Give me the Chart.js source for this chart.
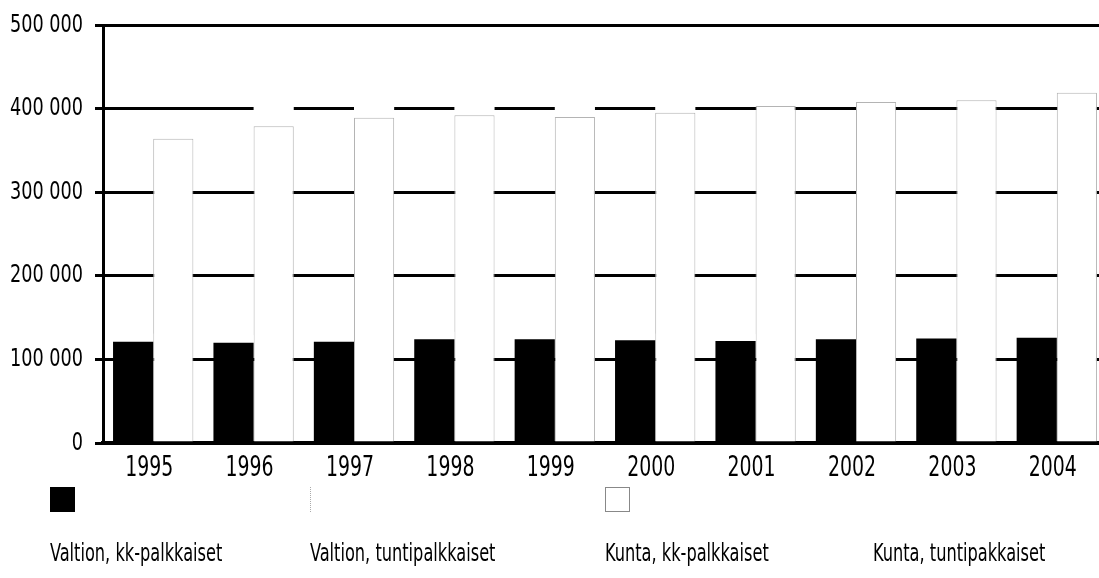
<!DOCTYPE html>
<html>
<head>
<meta charset="utf-8">
<script src="https://cdn.jsdelivr.net/npm/chart.js@4/dist/chart.umd.min.js"></script>
<style>
  html, body { margin: 0; padding: 0; background: #fff; overflow: hidden; }
  body { width: 1099px; height: 578px; position: relative; font-family: 'DejaVu Sans Condensed', 'DejaVu Sans', sans-serif; }
  #wrap { position: absolute; left: 0; top: 0; width: 1110px; height: 488px; }
  #legend { position: absolute; left: 0; top: 487px; width: 1099px; height: 91px; }
  .item { position: absolute; top: 0; }
  .sw { width: 25px; height: 25px; box-sizing: border-box; }
  .txt { position: absolute; left: 0; top: 53px; white-space: nowrap; font-size: 24px; line-height: 26px; color: #000;
         transform: scaleX(0.75); transform-origin: 0 50%; }
</style>
</head>
<body>
<div id="wrap"><canvas id="chart" width="1110" height="488"></canvas></div>
<div id="legend"></div>
<script>
// years and series (persons)
const years = ["1995", "1996", "1997", "1998", "1999", "2000", "2001", "2002", "2003", "2004"]
const valtionKk = [121000, 120000, 121000, 124000, 124000, 123000, 122000, 124000, 125000, 126000]
const valtionTunti = [10000, 9000, 9000, 9000, 8000, 8000, 8000, 8000, 8000, 8000]
const kuntaKk = [364000, 379000, 389000, 392000, 390000, 395000, 403000, 408000, 410000, 419000]
const kuntaTunti = [30000, 31000, 32000, 33000, 32000, 33000, 34000, 35000, 35000, 36000]
const yTickLabels = ["0", "100 000", "200 000", "300 000", "400 000", "500 000"]

const FONT = "'DejaVu Sans Condensed', 'DejaVu Sans', sans-serif"

// legend positions / swatch borders (style only)
const legendX = [50, 310, 605, 873]
const legendBorder = [
  { border: "none" },
  { border: "none", borderLeft: "1px dotted #aaa" },
  { border: "1px solid #888" },
  { border: "none" },
]

// tick labels drawn narrow (the original uses a condensed face)
const narrowTicks = {
  id: "narrowTicks",
  afterDraw(chart) {
    const c = chart.ctx
    const xs = chart.scales.x
    const ys = chart.scales.y
    c.save()
    c.fillStyle = "#000"
    c.textBaseline = "middle"

    c.font = "25px " + FONT
    c.textAlign = "right"
    ys.ticks.forEach((t, i) => {
      const py = ys.getPixelForValue(t.value)
      c.save()
      c.translate(chart.chartArea.left - 20, py)
      c.scale(0.785, 1)
      c.fillText(yTickLabels[i], 0, 0)
      c.restore()
    })

    c.font = "28px " + FONT
    c.textAlign = "center"
    xs.ticks.forEach((t, i) => {
      const px = xs.getPixelForTick(i) - 4
      c.save()
      c.translate(px, chart.chartArea.bottom + 26)
      c.scale(0.75, 1)
      c.fillText(years[i], 0, 0)
      c.restore()
    })
    c.restore()
  },
}

const ctx = document.getElementById("chart")

const chart = new Chart(ctx, {
  type: "bar",
  data: {
    labels: years,
    datasets: [
      { label: "Valtion, kk-palkkaiset", data: valtionKk, stack: "valtion", backgroundColor: "#000", borderWidth: 0 },
      { label: "Valtion, tuntipalkkaiset", data: valtionTunti, stack: "valtion", backgroundColor: "#fff", borderWidth: 0 },
      { label: "Kunta, kk-palkkaiset", data: kuntaKk, stack: "kunta", backgroundColor: "#fff", borderColor: "#b4b4b4", borderWidth: 1 },
      { label: "Kunta, tuntipakkaiset", data: kuntaTunti, stack: "kunta", backgroundColor: "#fff", borderWidth: 0 },
    ],
  },
  options: {
    responsive: false,
    animation: false,
    categoryPercentage: 0.8,
    barPercentage: 1.0,
    layout: { padding: { top: 25, right: 3, left: 0, bottom: 0 } },
    scales: {
      x: {
        stacked: true,
        grid: { display: false },
        border: { display: true, color: "#000", width: 4 },
        ticks: { display: false },
        afterFit: (scale) => { scale.height = 45 },
      },
      y: {
        stacked: true,
        min: 0,
        max: 500000,
        grid: { color: "#000", lineWidth: 3, tickLength: 8, tickColor: "#000", tickWidth: 3 },
        border: { display: true, color: "#000", width: 3 },
        ticks: { display: false, stepSize: 100000 },
        afterFit: (scale) => { scale.width = 103 },
      },
    },
    plugins: {
      legend: { display: false },
      tooltip: { enabled: false },
    },
  },
  plugins: [narrowTicks],
})

// legend below the chart, swatch above its text
const legendEl = document.getElementById("legend")
chart.data.datasets.forEach((ds, i) => {
  const item = document.createElement("div")
  item.className = "item"
  item.style.left = legendX[i] + "px"
  const sw = document.createElement("div")
  sw.className = "sw"
  sw.style.background = ds.backgroundColor
  Object.assign(sw.style, legendBorder[i])
  const txt = document.createElement("div")
  txt.className = "txt"
  txt.textContent = ds.label
  item.appendChild(sw)
  item.appendChild(txt)
  legendEl.appendChild(item)
})
</script>
</body>
</html>
